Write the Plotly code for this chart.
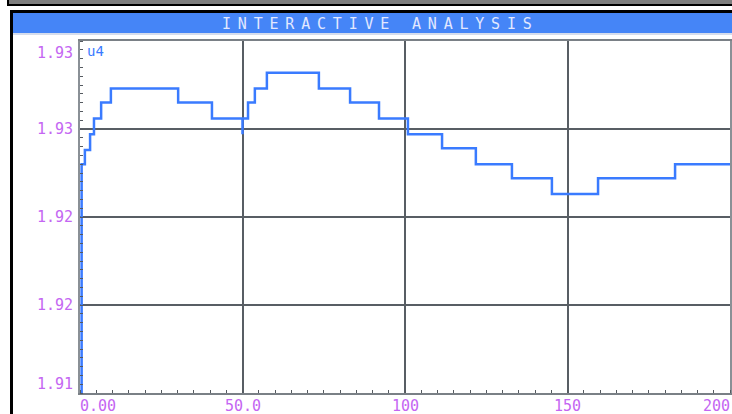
import plotly.graph_objects as go

# Step trace "u4": each level starts at the given x and holds until the next one
step_x = [0.0, 0.5, 1.5, 3.1, 4.3, 6.5, 9.5, 30.2, 40.6, 50.0, 50.0, 51.7, 53.8, 57.5,
          73.5, 83.1, 92.0, 100.9, 111.4, 121.8, 132.9, 145.2, 159.4, 183.1, 200.0]
step_y = [1.9000, 1.9255, 1.9263, 1.9272, 1.9281, 1.9290, 1.9298, 1.9290, 1.9281, 1.9272,
          1.9281, 1.9290, 1.9298, 1.9307, 1.9298, 1.9290, 1.9281, 1.9272, 1.9264, 1.9255,
          1.9247, 1.9238, 1.9247, 1.9255, 1.9255]

x_ticks = [0, 50, 100, 150, 200]
x_tick_text = ["0.00", "50.0", "100", "150", "200"]
y_ticks = [1.9125, 1.9175, 1.9225, 1.9275, 1.9325]
y_tick_text = ["1.91", "1.92", "1.92", "1.93", "1.93"]

W, H = 732, 414
PLOT_L, PLOT_R, PLOT_T, PLOT_B = 80, 730, 41, 393


def px(x):
    return x / W


def py(y):
    return (H - y) / H


LABEL_COLOR = "#c466f2"
TRACE_COLOR = "#3a7bff"
GRID_COLOR = "#585e64"
MONO = "DejaVu Sans Mono"

fig = go.Figure()
fig.add_trace(go.Scatter(
    x=step_x, y=step_y, mode="lines", line=dict(color=TRACE_COLOR, width=2.5, shape="hv"),
    showlegend=False, hoverinfo="skip",
))

fig.update_layout(
    width=W, height=H, autosize=False,
    margin=dict(l=0, r=0, t=0, b=0),
    paper_bgcolor="white", plot_bgcolor="white",
    xaxis=dict(
        domain=[px(PLOT_L), px(PLOT_R)], range=[0, 200],
        tickmode="array", tickvals=x_ticks, showticklabels=False, ticks="",
        showgrid=True, gridcolor=GRID_COLOR, gridwidth=2, zeroline=False,
        showline=True, linecolor="#7a8086", linewidth=2, mirror=True,
        minor=dict(tick0=0, dtick=5, ticks="inside", ticklen=3, tickwidth=1,
                   tickcolor="#555a60", showgrid=False),
    ),
    yaxis=dict(
        domain=[py(PLOT_B), py(PLOT_T)], range=[1.9125, 1.9325],
        tickmode="array", tickvals=y_ticks, showticklabels=False, ticks="",
        showgrid=True, gridcolor=GRID_COLOR, gridwidth=2, zeroline=False,
        showline=True, linecolor="#8a9096", linewidth=2, mirror=True,
        minor=dict(tick0=1.9125, dtick=0.0005, ticks="inside", ticklen=3, tickwidth=1,
                   tickcolor="#555a60", showgrid=False),
    ),
)

shapes = [
    # top window strip
    dict(type="rect", xref="paper", yref="paper", x0=px(8), x1=px(745), y0=py(5), y1=py(-5),
         fillcolor="#7f7f7f", line=dict(color="black", width=2), layer="above"),
    # title bar
    dict(type="rect", xref="paper", yref="paper", x0=px(13), x1=px(740), y0=py(33), y1=py(13),
         fillcolor="#4585f7", line=dict(width=0), layer="above"),
    dict(type="line", xref="paper", yref="paper", x0=px(13), x1=1, y0=py(34), y1=py(34),
         line=dict(color="#c8d2e6", width=1.5), layer="above"),
    # outer black frame
    dict(type="line", xref="paper", yref="paper", x0=px(10), x1=1.01, y0=py(11.5), y1=py(11.5),
         line=dict(color="black", width=3), layer="above"),
    dict(type="line", xref="paper", yref="paper", x0=px(11.5), x1=px(11.5), y0=py(11), y1=-0.01,
         line=dict(color="black", width=3), layer="above"),
]
fig.update_layout(shapes=shapes)

annotations = [
    dict(text='<span style="letter-spacing:6.8px">INTERACTIVE ANALYSIS</span>',
         xref="paper", yref="paper", x=px(380), y=py(23.5), xanchor="center", yanchor="middle",
         showarrow=False, font=dict(family=MONO, size=15, color="#e2e8ff")),
    dict(text="u4", xref="x", yref="paper", x=0, y=py(PLOT_T), xanchor="left", yanchor="top",
         xshift=5, yshift=0, showarrow=False, font=dict(family=MONO, size=14, color=TRACE_COLOR)),
]

# y-axis labels, pulled inside at the top and bottom ends
for i, (v, t) in enumerate(zip(y_ticks, y_tick_text)):
    if i == 0:
        ya, ys = "bottom", -2
    elif i == len(y_ticks) - 1:
        ya, ys = "top", -1
    else:
        ya, ys = "middle", 0
    annotations.append(dict(
        text=t, xref="paper", yref="y", x=px(PLOT_L), y=v, xanchor="right", yanchor=ya,
        xshift=-5, yshift=ys, showarrow=False,
        font=dict(family=MONO, size=15, color=LABEL_COLOR),
    ))

# x-axis labels, first left-aligned and last right-aligned
for i, (v, t) in enumerate(zip(x_ticks, x_tick_text)):
    if i == 0:
        xa, xs = "left", -2
    elif i == len(x_ticks) - 1:
        xa, xs = "right", 2
    else:
        xa, xs = "center", 0
    annotations.append(dict(
        text=t, xref="x", yref="paper", x=v, y=py(PLOT_B), xanchor=xa, yanchor="top",
        xshift=xs, yshift=-2, showarrow=False,
        font=dict(family=MONO, size=15, color=LABEL_COLOR),
    ))

fig.update_layout(annotations=annotations)

fig.write_html("out.html")
